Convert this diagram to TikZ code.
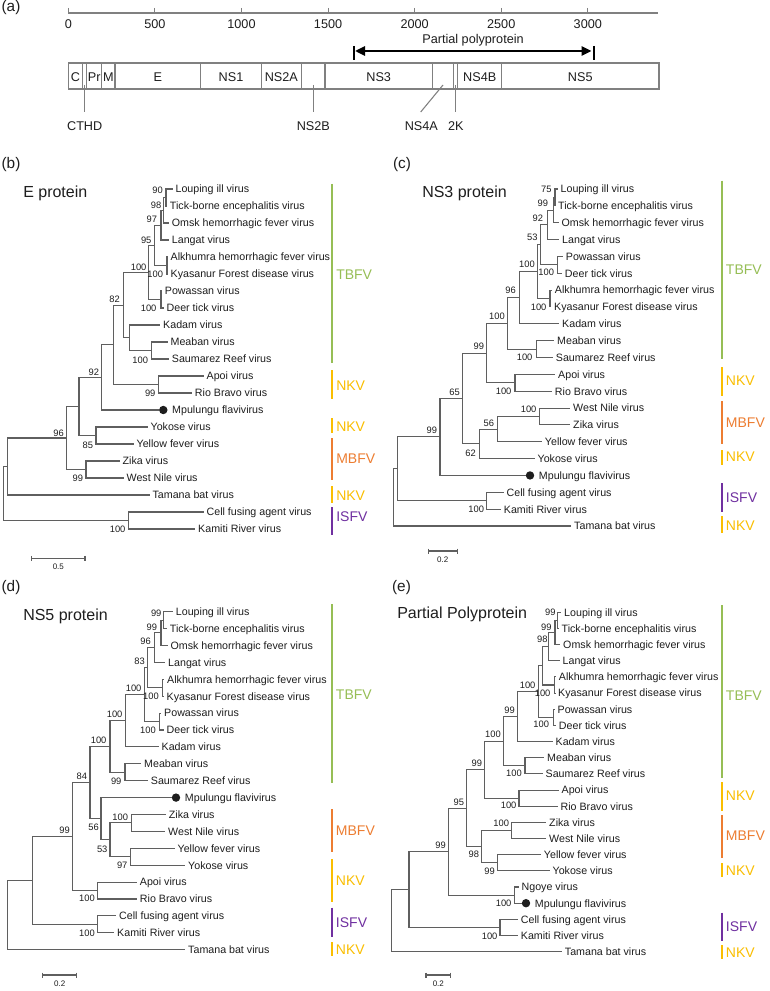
\documentclass[tikz,border=0pt]{standalone}
\usepackage{fontspec}
\setmainfont{Liberation Sans}
\usetikzlibrary{arrows.meta,calc}
\definecolor{tbfv}{RGB}{150,190,85}
\definecolor{nkv}{RGB}{250,190,0}
\definecolor{mbfv}{RGB}{237,125,49}
\definecolor{isfv}{RGB}{112,48,160}
\definecolor{lin}{RGB}{95,95,95}
\definecolor{gline}{RGB}{128,128,128}
\definecolor{txt}{RGB}{30,30,30}
\newcommand\leafnode[4]{%
  \coordinate (#1) at ({#2-3},{\yzero+#3*\ystep});
  \node[leaf] (#1-t) at (#1) {#4};}
\newcommand\mpunode[3]{%
  \coordinate (#1) at ({#2-4.2},{\yzero+#3*\ystep});
  \fill[txt] ($(#1)+(4.2,0)$) circle[radius=3.15pt];
  \node[leaf] (#1-t) at ($(#1)+(10.2,0)$) {Mpulungu flavivirus};}
\newcommand\inode[4]{%
  \coordinate (#1-m) at ($(#3)!0.5!(#4)$);
  \coordinate (#1) at (#2,0 |- #1-m);
  \draw[branch] (#1) |- (#3);
  \draw[branch] (#1) |- (#4);}
\newcommand\bsv[3]{\node[bs] at (#1,#2) {#3};}
\newcommand\cladebar[7]{%
  \draw[line width=1.5pt,#4] (#1,#2) -- (#1,#3);
  \node[cladetext,text=#4] (#7) at ({#1+4},#6) {#5};}
\newcommand\scalebar[6]{%
  \coordinate (#1-a) at (#2,#4); \coordinate (#1-b) at (#3,#4);
  \draw[branch] (#1-a) -- (#1-b);
  \draw[branch] ($(#1-a)+(0,-2.5)$) -- ($(#1-a)+(0,2.5)$);
  \draw[branch] ($(#1-b)+(0,-2.5)$) -- ($(#1-b)+(0,2.5)$);
  \node[sctext] (#1-t) at ({(#2+#3)/2},{#4+8.5}) {#5};}
\begin{document}
\begin{tikzpicture}[x=0.75pt,y=-0.75pt,
  leaf/.style={anchor=west, inner xsep=2pt, inner ysep=0pt, text height=5.8pt, text depth=0pt, font=\fontsize{8}{9.6}\selectfont, text=txt},
  bs/.style={anchor=east, inner sep=0pt, text height=5pt, text depth=0pt, font=\fontsize{7}{8}\selectfont, text=txt},
  branch/.style={draw=lin, line width=0.8pt},
  cladetext/.style={anchor=west, inner sep=0pt, text height=7.6pt, text depth=0pt, font=\fontsize{10.5}{12}\selectfont},
  sctext/.style={inner sep=0pt, text height=4.3pt, text depth=0pt, font=\fontsize{6}{7}\selectfont, text=txt},
  title/.style={anchor=west, inner sep=0pt, text height=8.6pt, text depth=0pt, font=\fontsize{12}{14}\selectfont, text=txt},
  plab/.style={inner sep=0pt, font=\fontsize{11.5}{13}\selectfont, text=txt},
  atext/.style={inner sep=0pt, text height=6.8pt, text depth=0pt, font=\fontsize{9.5}{11}\selectfont, text=txt},
  gbox/.style={draw=gline, line width=0.8pt}]
\fill[white] (0,0) rectangle (769,991);
\useasboundingbox (0,0) rectangle (769,991);

% ---------------- panel (a)
\node[plab] (pa) at (11,8) {(a)};
\draw[gbox] (68.3,13) -- (658,13);
\foreach \v in {0,500,1000,1500,2000,2500,3000}{
  \draw[gbox] ({68.3+\v*0.17317},8) -- ({68.3+\v*0.17317},13);
  \node[atext] (ax\v) at ({68.3+\v*0.17317},24) {\v};}
\node[atext] (pp) at (473,39) {Partial polyprotein};
\coordinate (ppL) at (355,51); \coordinate (ppR) at (591.5,51);
\draw[line width=2pt, {Triangle[length=7.5pt,width=6.8pt]}-{Triangle[length=7.5pt,width=6.8pt]}] (ppL) -- (ppR);
\draw[line width=1.5pt] (353.5,46) -- (353.5,60);
\draw[line width=1.5pt] (593.5,46) -- (593.5,60);
\draw[gbox] (68.3,63) rectangle (659,89);
\foreach \x in {82.3,86.7,101.7,115,200.7,261.3,301.3,325,432.3,453.3,457.7,501.7}
  \draw[gbox] (\x,63) -- (\x,89);
\node[atext] (gC) at (75.4,77) {C};
\node[atext] (gPr) at (94.2,77) {Pr};
\node[atext] (gM) at (108.4,77) {M};
\node[atext] (gE) at (157.8,77) {E};
\node[atext] (gNSa) at (231,77) {NS1};
\node[atext] (gNSb) at (281.3,77) {NS2A};
\node[atext] (gNSc) at (378.7,77) {NS3};
\node[atext] (gNSd) at (479.7,77) {NS4B};
\node[atext] (gNSe) at (580.3,77) {NS5};
\node[atext] (lCTHD) at (84.7,126) {CTHD};
\node[atext] (lNSb) at (313.3,126) {NS2B};
\node[atext] (lNSf) at (421.3,126) {NS4A};
\node[atext] (lK) at (455.8,126) {2K};
\draw[gbox] (84.5,85) -- (84.5,112);
\draw[gbox] (313.3,85) -- (313.3,112);
\draw[gbox] (443,85) -- (420.7,112);
\draw[gbox] (455.5,85) -- (455.5,112);

% ---------------- panel (b)
\node[plab] (pb) at (11,165) {(b)};
\node[title] (tb) at (23,192) {E protein};
\def\yzero{189}\def\ystep{17}
\leafnode{b-lou}{175.7}{0}{Louping ill virus}
\leafnode{b-tick}{170}{1}{Tick-borne encephalitis virus}
\leafnode{b-omsk}{172}{2}{Omsk hemorrhagic fever virus}
\leafnode{b-lang}{172}{3}{Langat virus}
\leafnode{b-alk}{170.7}{4}{Alkhumra hemorrhagic fever virus}
\leafnode{b-kya}{170.7}{5}{Kyasanur Forest disease virus}
\leafnode{b-pow}{165}{6}{Powassan virus}
\leafnode{b-deer}{166.7}{7}{Deer tick virus}
\leafnode{b-kad}{163.3}{8}{Kadam virus}
\leafnode{b-mea}{170.7}{9}{Meaban virus}
\leafnode{b-sau}{172}{10}{Saumarez Reef virus}
\leafnode{b-apoi}{206.7}{11}{Apoi virus}
\leafnode{b-rio}{195}{12}{Rio Bravo virus}
\mpunode{b-mpu}{163.3}{13}
\leafnode{b-yok}{150.7}{14}{Yokose virus}
\leafnode{b-yel}{136.7}{15}{Yellow fever virus}
\leafnode{b-zika}{122.7}{16}{Zika virus}
\leafnode{b-wn}{126.7}{17}{West Nile virus}
\leafnode{b-tam}{152.7}{18}{Tamana bat virus}
\leafnode{b-cell}{206.7}{19}{Cell fusing agent virus}
\leafnode{b-kam}{198.3}{20}{Kamiti River virus}
\inode{b-A}{166}{b-lou}{b-tick}
\inode{b-B}{163.3}{b-A}{b-omsk}
\inode{b-C}{161}{b-B}{b-lang}
\inode{b-D}{167}{b-alk}{b-kya}
\inode{b-E}{154.3}{b-C}{b-D}
\inode{b-F}{161}{b-pow}{b-deer}
\inode{b-G}{148.3}{b-E}{b-F}
\inode{b-MS}{151.7}{b-mea}{b-sau}
\inode{b-I}{129.3}{b-kad}{b-MS}
\inode{b-H}{123.3}{b-G}{b-I}
\inode{b-AR}{158.3}{b-apoi}{b-rio}
\inode{b-J}{113.3}{b-H}{b-AR}
\inode{b-K}{101.7}{b-J}{b-mpu}
\inode{b-L}{96}{b-yok}{b-yel}
\inode{b-M}{79}{b-K}{b-L}
\inode{b-N}{86}{b-zika}{b-wn}
\inode{b-O}{66.7}{b-M}{b-N}
\inode{b-P}{7.3}{b-O}{b-tam}
\inode{b-CK}{128.3}{b-cell}{b-kam}
\inode{b-R}{3.3}{b-P}{b-CK}
\bsv{163}{190}{90} \bsv{161.5}{205}{98} \bsv{157.3}{219.3}{97} \bsv{151.7}{240}{95}
\bsv{146.7}{266.7}{100} \bsv{163.3}{274.3}{100} \bsv{120}{299.3}{82} \bsv{156.7}{307.7}{100}
\bsv{148.3}{360}{100} \bsv{99.3}{371.7}{92} \bsv{155.7}{393.3}{99} \bsv{93.3}{445}{85}
\bsv{64}{432.7}{96} \bsv{83.3}{478.3}{99} \bsv{125.7}{529.3}{100}
\scalebar{b-sc}{31.7}{85}{558.3}{0.5}{}
\cladebar{332}{184}{363}{tbfv}{TBFV}{274}{b-c1}
\cladebar{332}{370}{399}{nkv}{NKV}{385}{b-c2}
\cladebar{332}{418}{433}{nkv}{NKV}{426}{b-c3}
\cladebar{332}{438}{480}{mbfv}{MBFV}{458}{b-c4}
\cladebar{332}{486}{503}{nkv}{NKV}{495}{b-c5}
\cladebar{332}{507}{535}{isfv}{ISFV}{516}{b-c6}

% ---------------- panel (c)
\node[plab] (pc) at (402,165) {(c)};
\node[title] (tc) at (422,192) {NS3 protein};
\def\yzero{189}\def\ystep{16.85}
\leafnode{c-lou}{560.7}{0}{Louping ill virus}
\leafnode{c-tick}{558.3}{1}{Tick-borne encephalitis virus}
\leafnode{c-omsk}{561.7}{2}{Omsk hemorrhagic fever virus}
\leafnode{c-lang}{562.3}{3}{Langat virus}
\leafnode{c-pow}{566}{4}{Powassan virus}
\leafnode{c-deer}{565}{5}{Deer tick virus}
\leafnode{c-alk}{555}{6}{Alkhumra hemorrhagic fever virus}
\leafnode{c-kya}{554.3}{7}{Kyasanur Forest disease virus}
\leafnode{c-kad}{562.3}{8}{Kadam virus}
\leafnode{c-mea}{557.3}{9}{Meaban virus}
\leafnode{c-sau}{556}{10}{Saumarez Reef virus}
\leafnode{c-apoi}{558.3}{11}{Apoi virus}
\leafnode{c-rio}{555}{12}{Rio Bravo virus}
\leafnode{c-wn}{573.3}{13}{West Nile virus}
\leafnode{c-zika}{573.3}{14}{Zika virus}
\leafnode{c-yel}{545}{15}{Yellow fever virus}
\leafnode{c-yok}{537.7}{16}{Yokose virus}
\mpunode{c-mpu}{530}{17}
\leafnode{c-cell}{506.7}{18}{Cell fusing agent virus}
\leafnode{c-kam}{504}{19}{Kamiti River virus}
\leafnode{c-tam}{574.3}{20}{Tamana bat virus}
\inode{c-A}{555}{c-lou}{c-tick}
\inode{c-B}{553.3}{c-A}{c-omsk}
\inode{c-C}{547.3}{c-B}{c-lang}
\inode{c-D}{557.7}{c-pow}{c-deer}
\inode{c-E}{540.7}{c-C}{c-D}
\inode{c-F}{550}{c-alk}{c-kya}
\inode{c-G}{537.7}{c-E}{c-F}
\inode{c-H}{519.3}{c-G}{c-kad}
\inode{c-MS}{536.7}{c-mea}{c-sau}
\inode{c-I}{507.7}{c-H}{c-MS}
\inode{c-AR}{515}{c-apoi}{c-rio}
\inode{c-J}{486.7}{c-I}{c-AR}
\inode{c-Za}{539.3}{c-wn}{c-zika}
\inode{c-Zb}{497.7}{c-Za}{c-yel}
\inode{c-Zc}{479.3}{c-Zb}{c-yok}
\inode{c-K}{462.7}{c-J}{c-Zc}
\inode{c-L}{440}{c-K}{c-mpu}
\inode{c-CK}{486.7}{c-cell}{c-kam}
\inode{c-M}{397.3}{c-L}{c-CK}
\inode{c-R}{393.3}{c-M}{c-tam}
\bsv{551.7}{189.3}{75} \bsv{548.3}{203.3}{99} \bsv{543.3}{217.7}{92} \bsv{537.7}{237.3}{53}
\bsv{535}{264.3}{100} \bsv{554.3}{272.5}{100} \bsv{516}{290}{96} \bsv{546.7}{306.7}{100}
\bsv{505}{315.7}{100} \bsv{484.3}{346}{99} \bsv{532.7}{356.7}{100} \bsv{460}{391.7}{65}
\bsv{511.7}{390.7}{100} \bsv{536.7}{409.3}{100} \bsv{494.3}{422.7}{56} \bsv{437.3}{430}{99}
\bsv{476}{452.7}{62} \bsv{484.3}{509.3}{100}
\scalebar{c-sc}{428.3}{457.3}{551}{0.2}{}
\cladebar{721.7}{180.7}{359.3}{tbfv}{TBFV}{269.3}{c-c1}
\cladebar{721.7}{367.3}{396}{nkv}{NKV}{380.7}{c-c2}
\cladebar{721.7}{401}{444.3}{mbfv}{MBFV}{422.7}{c-c3}
\cladebar{721.7}{450}{465}{nkv}{NKV}{456.7}{c-c4}
\cladebar{721.7}{483.3}{512}{isfv}{ISFV}{497}{c-c5}
\cladebar{721.7}{516}{533}{nkv}{NKV}{525}{c-c6}

% ---------------- panel (d)
\node[plab] (pd) at (11,588) {(d)};
\node[title] (td) at (23,615) {NS5 protein};
\def\yzero{611.7}\def\ystep{16.9}
\leafnode{d-lou}{176}{0}{Louping ill virus}
\leafnode{d-tick}{170}{1}{Tick-borne encephalitis virus}
\leafnode{d-omsk}{170.7}{2}{Omsk hemorrhagic fever virus}
\leafnode{d-lang}{168.3}{3}{Langat virus}
\leafnode{d-alk}{167.3}{4}{Alkhumra hemorrhagic fever virus}
\leafnode{d-kya}{166.7}{5}{Kyasanur Forest disease virus}
\leafnode{d-pow}{164.3}{6}{Powassan virus}
\leafnode{d-deer}{166.7}{7}{Deer tick virus}
\leafnode{d-kad}{161.7}{8}{Kadam virus}
\leafnode{d-mea}{144.3}{9}{Meaban virus}
\leafnode{d-sau}{151}{10}{Saumarez Reef virus}
\mpunode{d-mpu}{176}{11}
\leafnode{d-zika}{169}{12}{Zika virus}
\leafnode{d-wn}{168.3}{13}{West Nile virus}
\leafnode{d-yel}{177.7}{14}{Yellow fever virus}
\leafnode{d-yok}{188.3}{15}{Yokose virus}
\leafnode{d-apoi}{140}{16}{Apoi virus}
\leafnode{d-rio}{140}{17}{Rio Bravo virus}
\leafnode{d-cell}{119.3}{18}{Cell fusing agent virus}
\leafnode{d-kam}{117.3}{19}{Kamiti River virus}
\leafnode{d-tam}{188.3}{20}{Tamana bat virus}
\inode{d-A}{163.3}{d-lou}{d-tick}
\inode{d-B}{161}{d-A}{d-omsk}
\inode{d-C}{154.3}{d-B}{d-lang}
\inode{d-D}{162.3}{d-alk}{d-kya}
\inode{d-E}{147.7}{d-C}{d-D}
\inode{d-F}{159.3}{d-pow}{d-deer}
\inode{d-G}{144.3}{d-E}{d-F}
\inode{d-H}{125.7}{d-G}{d-kad}
\inode{d-MS}{125}{d-mea}{d-sau}
\inode{d-I}{110}{d-H}{d-MS}
\inode{d-Za}{131.7}{d-zika}{d-wn}
\inode{d-YY}{130.7}{d-yel}{d-yok}
\inode{d-Zb}{110}{d-Za}{d-YY}
\inode{d-Zc}{101}{d-mpu}{d-Zb}
\inode{d-J}{90}{d-I}{d-Zc}
\inode{d-AR}{97.7}{d-apoi}{d-rio}
\inode{d-K}{72.3}{d-J}{d-AR}
\inode{d-CK}{97.7}{d-cell}{d-kam}
\inode{d-L}{32.7}{d-K}{d-CK}
\inode{d-R}{7.3}{d-L}{d-tam}
\bsv{161.7}{613}{99} \bsv{157.3}{626.7}{99} \bsv{151}{641}{96} \bsv{145}{661}{83}
\bsv{141.7}{687.7}{100} \bsv{159}{695.7}{100} \bsv{122.7}{714}{100} \bsv{156}{730}{100}
\bsv{106.7}{740}{100} \bsv{87.3}{776}{84} \bsv{121.7}{780.7}{99} \bsv{128.3}{816.7}{100}
\bsv{99}{827.3}{56} \bsv{70}{830}{99} \bsv{107.7}{849}{53} \bsv{127.7}{865}{97}
\bsv{95}{898.3}{100} \bsv{95}{933.3}{100}
\scalebar{d-sc}{42.7}{76.7}{975}{0.2}{}
\cladebar{331.7}{604}{783.3}{tbfv}{TBFV}{694}{d-c1}
\cladebar{331.7}{809.3}{852.3}{mbfv}{MBFV}{830.7}{d-c2}
\cladebar{331.7}{859}{902.3}{nkv}{NKV}{880.7}{d-c3}
\cladebar{331.7}{907.7}{936.7}{isfv}{ISFV}{922.3}{d-c4}
\cladebar{331.7}{942.3}{956}{nkv}{NKV}{949.3}{d-c5}

% ---------------- panel (e)
\node[plab] (pe) at (401.5,588) {(e)};
\node[title] (te) at (397,613) {Partial Polyprotein};
\def\yzero{612.3}\def\ystep{16.16}
\leafnode{e-lou}{564.3}{0}{Louping ill virus}
\leafnode{e-tick}{561.7}{1}{Tick-borne encephalitis virus}
\leafnode{e-omsk}{563.3}{2}{Omsk hemorrhagic fever virus}
\leafnode{e-lang}{562.7}{3}{Langat virus}
\leafnode{e-alk}{559}{4}{Alkhumra hemorrhagic fever virus}
\leafnode{e-kya}{558.3}{5}{Kyasanur Forest disease virus}
\leafnode{e-pow}{557.7}{6}{Powassan virus}
\leafnode{e-deer}{559}{7}{Deer tick virus}
\leafnode{e-kad}{555.7}{8}{Kadam virus}
\leafnode{e-mea}{547.3}{9}{Meaban virus}
\leafnode{e-sau}{545.7}{10}{Saumarez Reef virus}
\leafnode{e-apoi}{561.7}{11}{Apoi virus}
\leafnode{e-rio}{560.7}{12}{Rio Bravo virus}
\leafnode{e-zika}{549.3}{13}{Zika virus}
\leafnode{e-wn}{549.3}{14}{West Nile virus}
\leafnode{e-yel}{544}{15}{Yellow fever virus}
\leafnode{e-yok}{552.7}{16}{Yokose virus}
\leafnode{e-ngo}{521.7}{17}{Ngoye virus}
\mpunode{e-mpu}{526}{18}
\leafnode{e-cell}{521}{19}{Cell fusing agent virus}
\leafnode{e-kam}{521}{20}{Kamiti River virus}
\leafnode{e-tam}{565}{21}{Tamana bat virus}
\inode{e-A}{557.5}{e-lou}{e-tick}
\inode{e-B}{555}{e-A}{e-omsk}
\inode{e-C}{548.3}{e-B}{e-lang}
\inode{e-D}{554.5}{e-alk}{e-kya}
\inode{e-E}{542.7}{e-C}{e-D}
\inode{e-F}{553.3}{e-pow}{e-deer}
\inode{e-G}{538.3}{e-E}{e-F}
\inode{e-H}{517.7}{e-G}{e-kad}
\inode{e-MS}{525}{e-mea}{e-sau}
\inode{e-I}{503.3}{e-H}{e-MS}
\inode{e-AR}{519}{e-apoi}{e-rio}
\inode{e-J}{484.3}{e-I}{e-AR}
\inode{e-Za}{511.7}{e-zika}{e-wn}
\inode{e-YY}{497.7}{e-yel}{e-yok}
\inode{e-Zb}{481.7}{e-Za}{e-YY}
\inode{e-K}{466.7}{e-J}{e-Zb}
\inode{e-NM}{514.3}{e-ngo}{e-mpu}
\inode{e-L}{448.3}{e-K}{e-NM}
\inode{e-CK}{500}{e-cell}{e-kam}
\inode{e-M}{409}{e-L}{e-CK}
\inode{e-R}{391.7}{e-M}{e-tam}
\bsv{555.7}{612.3}{99} \bsv{551.7}{626.7}{99} \bsv{547.7}{639.3}{98} \bsv{535.7}{685}{100}
\bsv{550.7}{692.7}{100} \bsv{515}{710}{99} \bsv{549.3}{724.3}{100} \bsv{501}{734.3}{100}
\bsv{482.3}{762.7}{99} \bsv{522}{773.3}{100} \bsv{464.3}{801.7}{95} \bsv{516.7}{805}{100}
\bsv{509.3}{823.3}{100} \bsv{446}{845}{99} \bsv{479.3}{854}{98} \bsv{495}{870.7}{99}
\bsv{511.7}{903.3}{100} \bsv{497.7}{935.7}{100}
\scalebar{e-sc}{426}{450.7}{975}{0.2}{}
\cladebar{721.7}{605}{777.7}{tbfv}{TBFV}{695}{e-c1}
\cladebar{721.7}{782.3}{810.7}{nkv}{NKV}{795.7}{e-c2}
\cladebar{721.7}{815}{858.3}{mbfv}{MBFV}{835}{e-c3}
\cladebar{721.7}{863.3}{877.3}{nkv}{NKV}{870}{e-c4}
\cladebar{721.7}{912.7}{940.7}{isfv}{ISFV}{926.7}{e-c5}
\cladebar{721.7}{945}{959.3}{nkv}{NKV}{952.7}{e-c6}
\end{tikzpicture}
\end{document}
